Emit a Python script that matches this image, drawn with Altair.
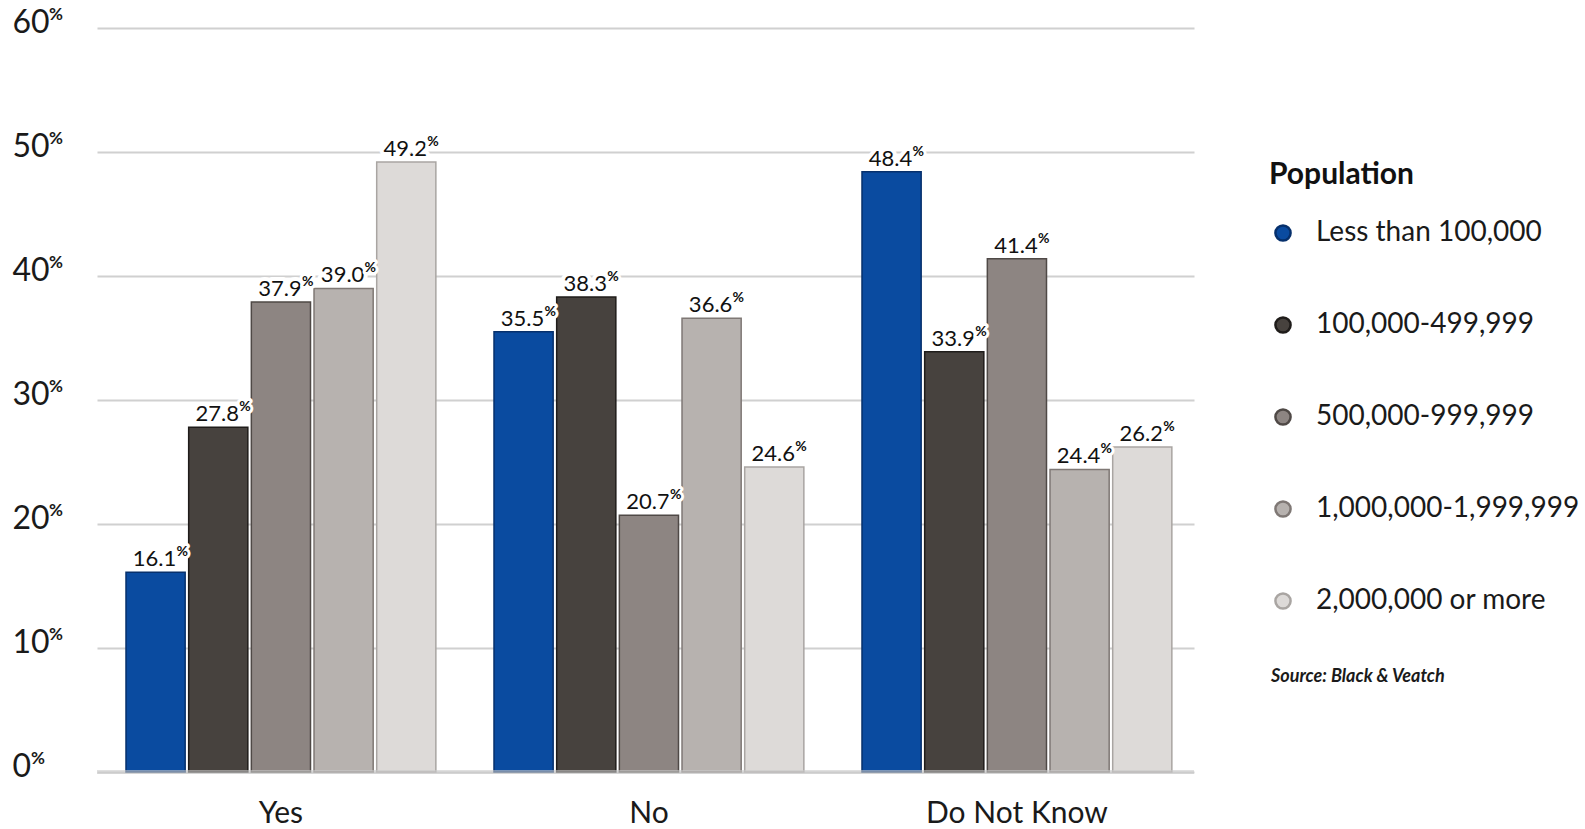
import altair as alt
import pandas as pd

FONT = "Lato"

# Survey answers and the population bands of the responding communities
answers = ["Yes", "No", "Do Not Know"]
populations = [
    "Less than 100,000",
    "100,000-499,999",
    "500,000-999,999",
    "1,000,000-1,999,999",
    "2,000,000 or more",
]
yes_pct = [16.1, 27.8, 37.9, 39.0, 49.2]
no_pct = [35.5, 38.3, 20.7, 36.6, 24.6]
dnk_pct = [48.4, 33.9, 41.4, 24.4, 26.2]

fill_colors = ["#0a4ba0", "#47423e", "#8d8582", "#b7b2af", "#dddad8"]
edge_colors = ["#06306c", "#1f1c1a", "#4f4946", "#7f7875", "#a9a5a2"]
y_ticks = [0, 10, 20, 30, 40, 50, 60]
source_note = ["Source: Black & Veatch"]

rows = []
for answer, values in zip(answers, [yes_pct, no_pct, dnk_pct]):
    for pop, v in zip(populations, values):
        rows.append({"answer": answer, "population": pop, "pct": v, "label": f"{v:.1f}"})
df = pd.DataFrame(rows)

tick_df = pd.DataFrame({"pct": y_ticks, "sign": ["%"] * len(y_ticks)})
source_df = pd.DataFrame({"note": source_note})

x_enc = alt.X(
    "answer:N",
    sort=answers,
    scale=alt.Scale(paddingInner=0.158, paddingOuter=0.0695, align=0.567),
    axis=alt.Axis(
        title=None,
        labelAngle=0,
        labelFont=FONT,
        labelFontSize=30,
        labelColor="#1a1a1a",
        labelPadding=26,
        labelBaseline="top",
        labelLimit=400,
        ticks=False,
        domain=False,
        grid=False,
    ),
)
xoff_enc = alt.XOffset(
    "population:N",
    sort=populations,
    scale=alt.Scale(paddingInner=0.056, paddingOuter=0),
)
y_enc = alt.Y(
    "pct:Q",
    scale=alt.Scale(domain=[0, 60], nice=False),
    axis=alt.Axis(
        title=None,
        values=y_ticks,
        format="d",
        labelFont=FONT,
        labelFontSize=32,
        labelColor="#1a1a1a",
        labelAlign="left",
        labelBaseline="middle",
        labelPadding=85,
        labelOffset=-6,
        ticks=False,
        domain=False,
        grid=True,
        gridColor="#d0d0d0",
        gridWidth=2,
    ),
)

legend = alt.Legend(
    title="Population",
    orient="none",
    direction="vertical",
    legendX=1172,
    legendY=132,
    padding=0,
    titleFont=FONT,
    titleFontSize=30,
    titleFontWeight="bold",
    titleColor="#111111",
    titlePadding=29,
    labelFont=FONT,
    labelFontSize=28,
    labelColor="#1a1a1a",
    labelOffset=19,
    labelLimit=400,
    symbolType="circle",
    symbolSize=230,
    symbolStrokeWidth=2.5,
    symbolOpacity=1,
    rowPadding=64,
)

base = alt.Chart(df)

bars = base.mark_bar(strokeWidth=1.5).encode(
    x=x_enc,
    xOffset=xoff_enc,
    y=y_enc,
    color=alt.Color(
        "population:N",
        sort=populations,
        scale=alt.Scale(domain=populations, range=fill_colors),
        legend=legend,
    ),
    stroke=alt.Stroke(
        "population:N",
        sort=populations,
        scale=alt.Scale(domain=populations, range=edge_colors),
        legend=legend,
    ),
)

# light band along the zero line, drawn over the bar bottoms
zero_band = alt.Chart(tick_df).transform_filter("datum.pct == 0").mark_rule(
    strokeWidth=4, color="#c9c9c9", opacity=0.6
).encode(y=alt.Y("pct:Q"))

label_style = dict(font=FONT, fontSize=22, align="center", baseline="alphabetic", dx=-1, dy=-6)
label_halo = base.mark_text(
    stroke="white", strokeWidth=8, strokeJoin="round", color="white", **label_style
).encode(x=x_enc, xOffset=xoff_enc, y=y_enc, text="label:N")
labels = base.mark_text(color="#111111", **label_style).encode(
    x=x_enc, xOffset=xoff_enc, y=y_enc, text="label:N"
)

sign_style = dict(font=FONT, fontSize=14, fontWeight="bold", align="left", baseline="alphabetic", dx=21, dy=-16)
sign_halo = base.mark_text(
    stroke="white", strokeWidth=6, strokeJoin="round", color="white", **sign_style
).encode(x=x_enc, xOffset=xoff_enc, y=y_enc, text=alt.value("%"))
signs = base.mark_text(color="#111111", **sign_style).encode(
    x=x_enc, xOffset=xoff_enc, y=y_enc, text=alt.value("%")
)

# superscript percent signs next to the y-axis numbers
axis_sign_style = dict(font=FONT, fontSize=17, fontWeight="bold", align="left", baseline="top", dy=-21, color="#1a1a1a")
axis_signs_two = alt.Chart(tick_df).transform_filter("datum.pct >= 10").mark_text(**axis_sign_style).encode(
    x=alt.value(-48), y=alt.Y("pct:Q"), text="sign:N"
)
axis_signs_one = alt.Chart(tick_df).transform_filter("datum.pct < 10").mark_text(**axis_sign_style).encode(
    x=alt.value(-66), y=alt.Y("pct:Q"), text="sign:N"
)

source = alt.Chart(source_df).mark_text(
    font=FONT, fontSize=18, fontWeight="bold", fontStyle="italic", align="left",
    baseline="alphabetic", color="#1a1a1a",
).encode(x=alt.value(1174), y=alt.value(654), text="note:N")

chart = (
    alt.layer(bars, zero_band, label_halo, labels, sign_halo, signs, axis_signs_two, axis_signs_one, source)
    .properties(
        width=1097,
        height=744,
        padding={"left": 97, "top": 28, "right": 391, "bottom": 57},
        autosize=alt.AutoSizeParams(type="none"),
        background="white",
    )
    .configure_view(stroke=None)
)

chart.save("out.html", embed_options={"renderer": "svg", "actions": False})
